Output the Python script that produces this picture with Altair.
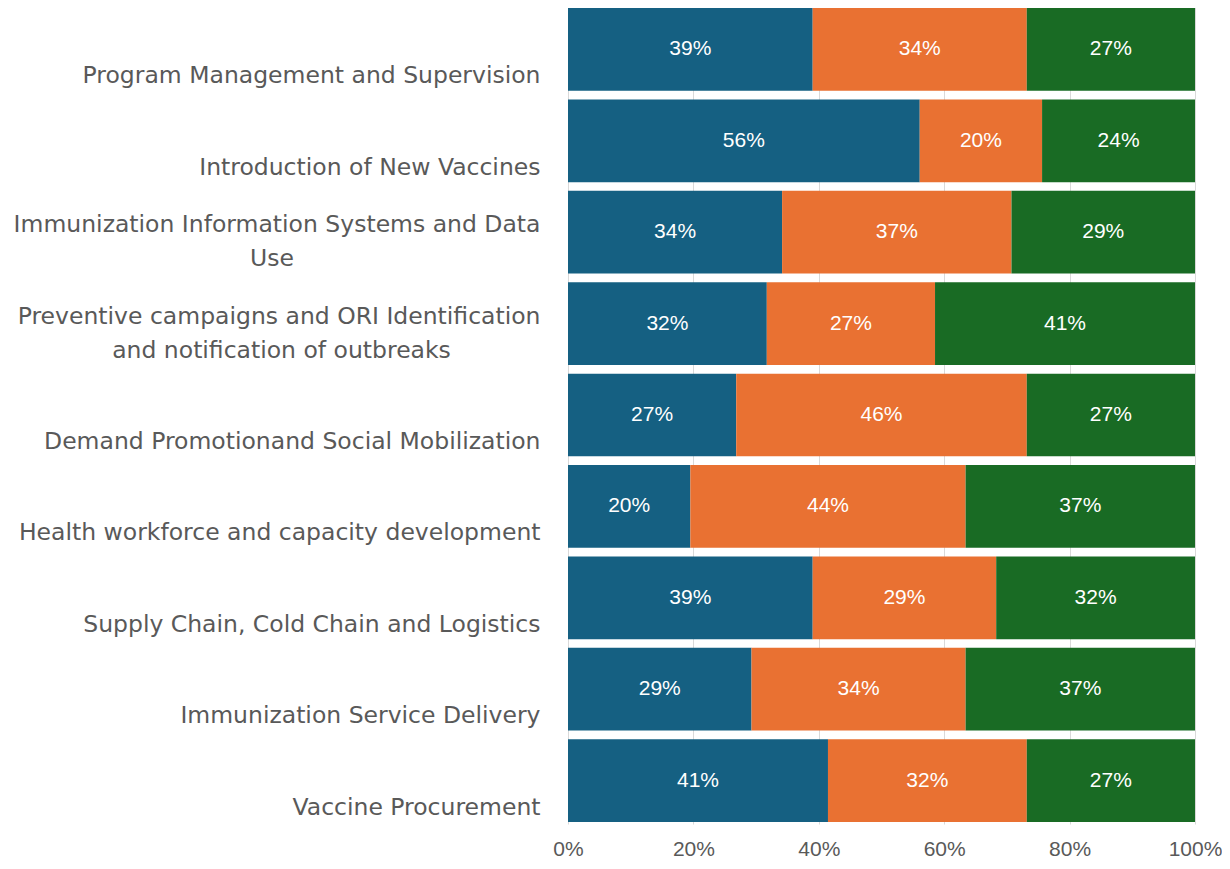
import altair as alt
import pandas as pd

NBSP = "\u00a0"
ZWSP = "\u200b"  # keeps the trailing no-break spaces from being trimmed

# Categories, top to bottom ("\n" marks a line break in the axis label;
# the no-break spaces keep the second line centred under the first)
categories = [
    "Program Management and Supervision",
    "Introduction of New Vaccines",
    "Immunization Information Systems and Data\nUse" + NBSP * 33 + ZWSP,
    "Preventive campaigns and ORI Identification\nand notification of outbreaks" + NBSP * 12 + ZWSP,
    "Demand Promotionand Social Mobilization",
    "Health workforce and capacity development",
    "Supply Chain, Cold Chain and Logistics",
    "Immunization Service Delivery",
    "Vaccine Procurement",
]

series = ["Series 1", "Series 2", "Series 3"]
colors = ["#156082", "#E97132", "#196B24"]

# Responses per category (41 each)
series1 = [16, 23, 14, 13, 11, 8, 16, 12, 17]
series2 = [14, 8, 15, 11, 19, 18, 12, 14, 13]
series3 = [11, 10, 12, 17, 11, 15, 13, 15, 11]

rows = []
for i, cat in enumerate(categories):
    for j, vals in enumerate([series1, series2, series3]):
        rows.append({"category": cat, "series": series[j], "order": j, "count": vals[i]})
df = pd.DataFrame(rows)

CAT_FONT = "DejaVu Sans"
NUM_FONT = "Liberation Sans"
GRAY = "#595959"

base = (
    alt.Chart(df)
    .transform_joinaggregate(total="sum(count)", groupby=["category"])
    .transform_calculate(pct="datum.count / datum.total")
    .transform_stack(stack="pct", groupby=["category"], as_=["x0", "x1"],
                     sort=[alt.SortField("order", order="ascending")])
    .transform_calculate(mid="(datum.x0 + datum.x1) / 2")
)

y_scale = alt.Scale(paddingInner=0.095, paddingOuter=0.022)

y_enc = alt.Y(
    "category:N",
    sort=categories,
    title=None,
    scale=y_scale,
    axis=alt.Axis(
        labelExpr="split(datum.label, '\\n')",
        labelFont=CAT_FONT,
        labelFontSize=23.5,
        labelColor=GRAY,
        labelAlign="right",
        labelBaseline="bottom",
        labelOffset={
            "condition": {"test": "indexof(datum.value, '\\n') >= 0", "value": 5},
            "value": 39,
        },
        labelPadding=28,
        labelLineHeight=34,
        labelLimit=700,
        ticks=False,
        domain=False,
        grid=False,
    ),
)

bars = base.mark_bar(stroke=None).encode(
    y=y_enc,
    x=alt.X(
        "x0:Q",
        title=None,
        scale=alt.Scale(domain=[0, 1], nice=False),
        axis=alt.Axis(
            format=".0%",
            values=[0, 0.2, 0.4, 0.6, 0.8, 1.0],
            labelFont=NUM_FONT,
            labelFontSize=21,
            labelColor=GRAY,
            labelBaseline="alphabetic",
            labelPadding=31,
            ticks=False,
            domain=False,
            grid=True,
            gridColor="#D9D9D9",
            gridWidth=1,
            labelFlush=False,
        ),
    ),
    x2="x1:Q",
    color=alt.Color("series:N", scale=alt.Scale(domain=series, range=colors), legend=None),
)

labels = base.mark_text(color="white", font=NUM_FONT, fontSize=21, baseline="middle").encode(
    y=alt.Y("category:N", sort=categories),
    x=alt.X("mid:Q"),
    text=alt.Text("pct:Q", format=".0%"),
)

chart = (
    alt.layer(bars, labels)
    .properties(
        width=627,
        height=818,
        autosize=alt.AutoSizeParams(type="none"),
        padding={"left": 560, "top": -2, "right": 27, "bottom": 37},
    )
    .configure_view(stroke=None)
)

chart.save("out.html", embed_options={"renderer": "svg", "actions": False})
